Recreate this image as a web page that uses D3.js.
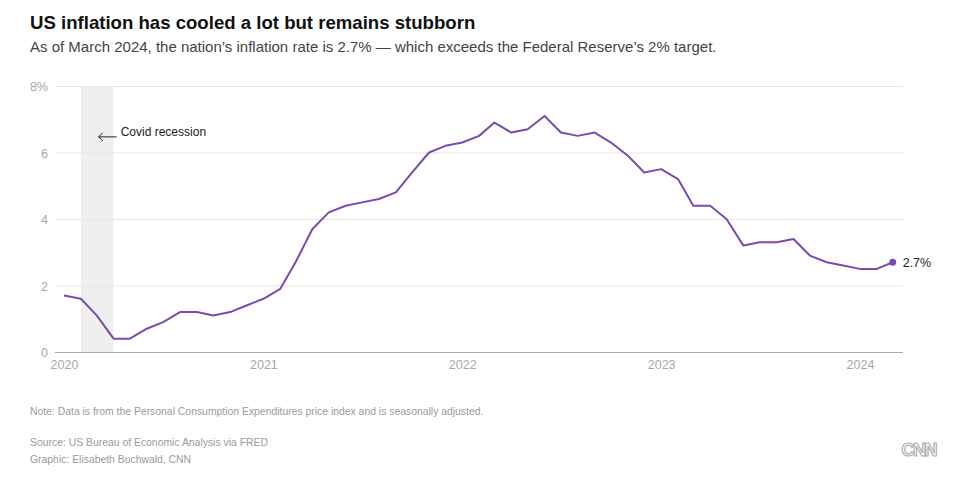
<!DOCTYPE html>
<html>
<head>
<meta charset="utf-8">
<script src="https://cdn.jsdelivr.net/npm/d3@7"></script>
<style>
  html, body { margin: 0; padding: 0; background: #fff; }
  svg { display: block; font-family: "Liberation Sans", Arial, Helvetica, sans-serif; }
</style>
</head>
<body>
<svg id="chart" width="957" height="480"></svg>
<script>
const startMonth = "2020-01";
const inflation = [
  1.7, 1.6, 1.1, 0.4, 0.4, 0.7, 0.9, 1.2, 1.2, 1.1, 1.2, 1.4,
  1.6, 1.9, 2.7, 3.7, 4.2, 4.4, 4.5, 4.6, 4.8, 5.4, 6.0, 6.2,
  6.3, 6.5, 6.9, 6.6, 6.7, 7.1, 6.6, 6.5, 6.6, 6.3, 5.9, 5.4,
  5.5, 5.2, 4.4, 4.4, 4.0, 3.2, 3.3, 3.3, 3.4, 2.9, 2.7, 2.6,
  2.5, 2.5, 2.7
];
const yTicks = [0, 2, 4, 6, 8];
const xTickYears = [2020, 2021, 2022, 2023, 2024];
const recession = ["2020-02", "2020-04"];
const recessionLabel = "Covid recession";
const title = "US inflation has cooled a lot but remains stubborn";
const subtitle = "As of March 2024, the nation\u2019s inflation rate is 2.7% \u2014 which exceeds the Federal Reserve\u2019s 2% target.";
const note = "Note: Data is from the Personal Consumption Expenditures price index and is seasonally adjusted.";
const source = "Source: US Bureau of Economic Analysis via FRED";
const credit = "Graphic: Elisabeth Buchwald, CNN";

const parse = d3.timeParse("%Y-%m");
const t0 = parse(startMonth);
const data = inflation.map((v, i) => ({ date: d3.timeMonth.offset(t0, i), value: v }));

const svg = d3.select("#chart");
const plotLeft = 55, plotRight = 903, plotTop = 86, plotBottom = 352;

const x = d3.scaleTime()
  .domain([parse("2020-01"), parse("2024-01")])
  .range([64, 860]);
const y = d3.scaleLinear().domain([0, 8]).range([plotBottom, plotTop]);

// Title
svg.append("text").attr("x", 30).attr("y", 29)
  .attr("font-size", 18.6).attr("font-weight", "bold").attr("fill", "#111")
  .text(title);
svg.append("text").attr("x", 30).attr("y", 52)
  .attr("font-size", 15).attr("fill", "#444")
  .text(subtitle);

// Recession band
svg.append("rect")
  .attr("x", x(parse(recession[0])))
  .attr("y", plotTop)
  .attr("width", x(parse(recession[1])) - x(parse(recession[0])))
  .attr("height", plotBottom - plotTop)
  .attr("fill", "#efefef");

// Gridlines + y labels
const yAxis = d3.axisLeft(y).tickValues(yTicks).tickSize(-(plotRight - plotLeft))
  .tickFormat(d => d === 8 ? "8%" : d);
const gy = svg.append("g").attr("transform", `translate(${plotLeft},0)`).call(yAxis);
gy.select(".domain").remove();
gy.selectAll(".tick line").attr("stroke", d => d === 0 ? "#aaa" : "#e6e6e6").attr("stroke-width", 1);
gy.selectAll(".tick text").attr("x", -7).attr("dy", "0.36em")
  .attr("fill", "#a8a8a8").attr("font-size", 12.5)
  .attr("font-family", "'Liberation Sans', Arial, sans-serif");
gy.selectAll(".tick").filter(d => d === 0).raise();

// X axis labels
const xAxis = d3.axisBottom(x).tickValues(xTickYears.map(yr => new Date(yr, 0, 1)))
  .tickSize(0).tickFormat(d3.timeFormat("%Y"));
const gx = svg.append("g").attr("transform", `translate(0,${plotBottom})`).call(xAxis);
gx.select(".domain").remove();
gx.selectAll(".tick text").attr("dy", "0").attr("y", 17)
  .attr("fill", "#a8a8a8").attr("font-size", 12.5)
  .attr("font-family", "'Liberation Sans', Arial, sans-serif");

// Annotation
const annY = y(6.5);
const ax0 = x(parse("2020-03")) + 1;
svg.append("line").attr("x1", ax0 + 1).attr("x2", ax0 + 19)
  .attr("y1", annY + 1).attr("y2", annY + 1)
  .attr("stroke", "#222").attr("stroke-width", 1);
svg.append("path")
  .attr("d", `M${ax0 + 5},${annY - 3} L${ax0 + 1},${annY + 1} L${ax0 + 5},${annY + 5}`)
  .attr("fill", "none").attr("stroke", "#222").attr("stroke-width", 1);
svg.append("text").attr("x", ax0 + 23).attr("y", annY)
  .attr("font-size", 12).attr("fill", "#222")
  .text(recessionLabel);

// Line
const lineGen = d3.line().x(d => x(d.date)).y(d => y(d.value));
svg.append("path").datum(data)
  .attr("d", lineGen)
  .attr("fill", "none").attr("stroke", "#7b4bb0").attr("stroke-width", 2)
  .attr("stroke-linejoin", "round");

const last = data[data.length - 1];
svg.append("circle").attr("cx", x(last.date)).attr("cy", y(last.value)).attr("r", 3.5)
  .attr("fill", "#7b4bb0");
svg.append("text").attr("x", x(last.date) + 10).attr("y", y(last.value)).attr("dy", "0.36em")
  .attr("font-size", 12.5).attr("fill", "#222")
  .text(d3.format(".1f")(last.value) + "%");

// Footer
svg.append("text").attr("x", 30).attr("y", 415).attr("font-size", 10.4).attr("fill", "#9a9a9a").text(note);
svg.append("text").attr("x", 30).attr("y", 446).attr("font-size", 10.4).attr("fill", "#9a9a9a").text(source);
svg.append("text").attr("x", 30).attr("y", 463).attr("font-size", 10.4).attr("fill", "#9a9a9a").text(credit);

// CNN mark
svg.append("text").attr("x", 936).attr("y", 456).attr("text-anchor", "end")
  .attr("font-size", 18).attr("font-weight", "bold").attr("letter-spacing", -1.5)
  .attr("fill", "#fff").attr("stroke", "#b0b0b0").attr("stroke-width", 1.2)
  .text("CNN");
</script>
</body>
</html>
